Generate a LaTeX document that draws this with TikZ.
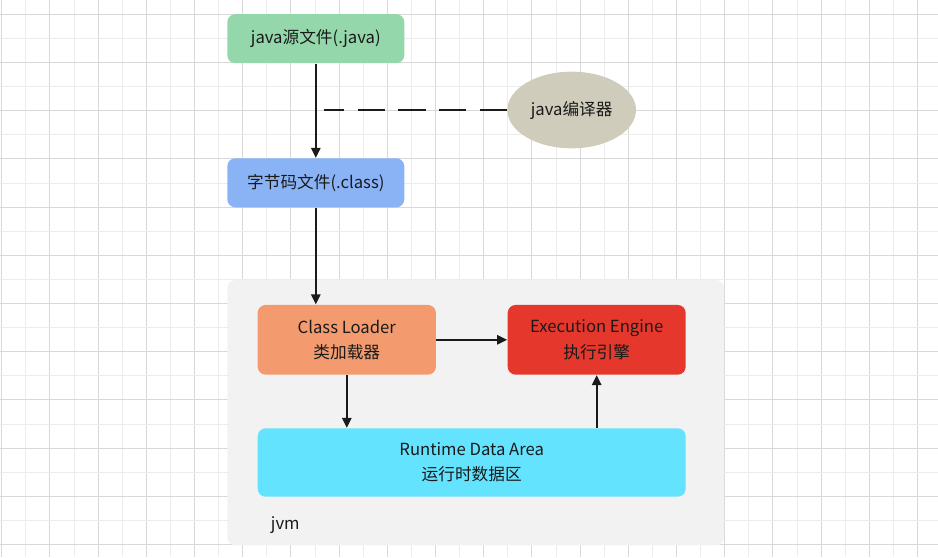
\documentclass[tikz,border=0pt]{standalone}
\usepackage{fontspec}
\setmainfont{Noto Sans CJK SC}
\usetikzlibrary{arrows.meta,shapes.geometric}

\definecolor{gridminor}{RGB}{236,236,236}
\definecolor{gridmajor}{RGB}{216,216,216}
\definecolor{srcgreen}{RGB}{147,215,170}
\definecolor{bytblue}{RGB}{138,179,246}
\definecolor{compgrey}{RGB}{207,204,187}
\definecolor{jvmgrey}{RGB}{242,242,242}
\definecolor{loadorange}{RGB}{243,155,111}
\definecolor{execred}{RGB}{229,55,44}
\definecolor{datacyan}{RGB}{100,227,254}
\definecolor{txtdark}{RGB}{26,26,26}

\tikzset{every picture/.style={line width=0.75pt}}
\tikzset{
  box/.style={rectangle, rounded corners=6pt, inner sep=0pt, align=center,
    text=txtdark, font=\fontsize{12.5}{19}\selectfont},
  flow/.style={draw=txtdark, line width=1.4pt, -{Triangle[length=7.5pt,width=7pt]}},
}

\begin{document}
\begin{tikzpicture}[x=0.75pt,y=0.75pt,yscale=-1,xscale=1]
	\useasboundingbox (0,0) rectangle (938,557);

	%Grid
	\foreach \k in {0,...,38}{
		\pgfmathsetmacro{\gx}{1.7+24.1*\k}
		\ifodd\k \draw [gridminor, line width=0.75pt] (\gx,0) -- (\gx,557);
		\else \draw [gridmajor, line width=0.75pt] (\gx,0) -- (\gx,557); \fi
	}
	\foreach \k in {0,...,22}{
		\pgfmathsetmacro{\gy}{14.3+24.1*\k}
		\ifodd\k \draw [gridminor, line width=0.75pt] (0,\gy) -- (938,\gy);
		\else \draw [gridmajor, line width=0.75pt] (0,\gy) -- (938,\gy); \fi
	}

	%Shape: jvm container
	\node [box, fill=jvmgrey, minimum width=372.5pt, minimum height=199pt] (jvm) at (475.7,412.7) {};
	% Text Node
	\node [box] (jvmlabel) at (285.3,525) {jvm};

	%Shape: source file
	\node [box, fill=srcgreen, minimum width=132.75pt, minimum height=36.75pt] (src) at (315.8,38.7) {java源文件(.java)};
	%Shape: bytecode file
	\node [box, fill=bytblue, minimum width=132.75pt, minimum height=36.75pt] (byt) at (315.8,182.8) {字节码文件(.class)};
	%Shape: compiler ellipse
	\node [ellipse, draw=none, fill=compgrey, inner sep=0pt, minimum width=96.5pt, minimum height=57.5pt,
		text=txtdark, font=\fontsize{12.5}{19}\selectfont] (comp) at (571.7,110) {java编译器};
	\coordinate (dashend) at (324.3,110);

	%Shape: class loader
	\node [box, fill=loadorange, minimum width=133.7pt, minimum height=52.3pt] (loader) at (346.8,339.8) {Class Loader\\类加载器};
	%Shape: execution engine
	\node [box, fill=execred, minimum width=133.5pt, minimum height=52.3pt] (engine) at (596.7,339.8) {Execution Engine\\执行引擎};
	%Shape: runtime data area
	\node [box, fill=datacyan, minimum width=321pt, minimum height=51.3pt] (rtdata) at (471.7,462.5) {Runtime Data Area\\运行时数据区};

	%Straight Lines
	\draw [flow] (src) -- (byt);
	\draw [flow] (byt.south) -- (byt.south |- loader.north);
	\draw [flow] (loader) -- (engine);
	\draw [flow] (loader.south) -- (loader.south |- rtdata.north);
	\draw [flow] (engine.south |- rtdata.north) -- (engine.south);
	%Dashed Line
	\draw [txtdark, line width=1.4pt, dash pattern=on 20.5pt off 10pt] (comp.west) -- (dashend);

\end{tikzpicture}
\end{document}
